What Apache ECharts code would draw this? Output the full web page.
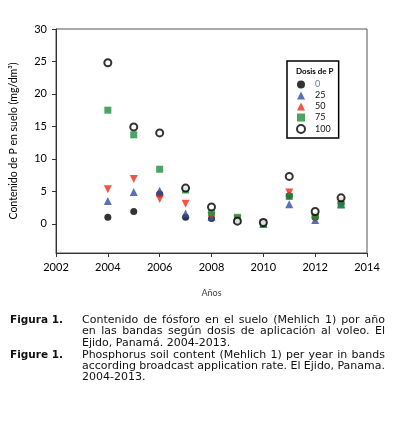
<!DOCTYPE html>
<html>
<head>
<meta charset="utf-8">
<script src="https://cdn.jsdelivr.net/npm/echarts@6/dist/echarts.min.js"></script>
<style>
html, body { margin: 0; padding: 0; background: #fff; }
#main { width: 399px; height: 428px; }
</style>
</head>
<body>
<div id="main"></div>
<script>
// años muestreados
var years = [2004, 2005, 2006, 2007, 2008, 2009, 2010, 2011, 2012, 2013];
// contenido de P (mg/dm3) por dosis
var dosis0   = [1.0, 1.9, 4.6, 1.0, 0.8, 0.5, 0.1, 4.3, 1.0, 3.2];
var dosis25  = [3.5, 4.9, 5.1, 1.6, 1.1, 0.6, 0.0, 3.0, 0.6, 3.0];
var dosis50  = [5.3, 6.9, 3.8, 3.1, 1.2, 0.7, 0.1, 4.8, 0.9, 3.5];
var dosis75  = [17.5, 13.7, 8.4, 5.2, 1.7, 1.0, -0.1, 4.2, 1.2, 2.9];
var dosis100 = [24.8, 14.9, 14.0, 5.5, 2.6, 0.4, 0.2, 7.3, 1.9, 4.0];
var yTicks = [0, 5, 10, 15, 20, 25, 30];

// pie de figura (líneas justificadas salvo la última de cada párrafo)
var pieEs = ['Contenido de fósforo en el suelo (Mehlich 1) por año',
	'en las bandas según dosis de aplicación al voleo. El',
	'Ejido, Panamá. 2004-2013.'];
var pieEn = ['Phosphorus soil content (Mehlich 1) per year in bands',
	'according broadcast application rate. El Ejido, Panama.',
	'2004-2013.'];

function pares(vals) {
	var out = [];
	for (var i = 0; i < years.length; i++) {
		out.push([years[i], vals[i]]);
	}
	return out;
}

var fuentePie = '11px "DejaVu Sans"';
var ctx = document.createElement('canvas').getContext('2d');
ctx.font = fuentePie;

// arma las palabras de un párrafo justificado
function parrafo(lineas, x0, y0, ancho, alto) {
	var els = [];
	for (var i = 0; i < lineas.length; i++) {
		var y = y0 + i * alto;
		var palabras = lineas[i].split(' ');
		if (i == lineas.length - 1) {
			els.push({ type: 'text', x: x0, y: y,
				style: { text: lineas[i], font: fuentePie, fill: '#111', verticalAlign: 'middle' } });
			continue;
		}
		var total = 0;
		for (var j = 0; j < palabras.length; j++) total += ctx.measureText(palabras[j]).width;
		var hueco = (ancho - total) / (palabras.length - 1);
		var x = x0;
		for (var j = 0; j < palabras.length; j++) {
			els.push({ type: 'text', x: x, y: y,
				style: { text: palabras[j], font: fuentePie, fill: '#111', verticalAlign: 'middle' } });
			x += ctx.measureText(palabras[j]).width + hueco;
		}
	}
	return els;
}

var graficos = [
	{ type: 'text', x: 10, y: 320,
	  style: { text: 'Figura 1.', font: 'bold 10.5px "DejaVu Sans"', fill: '#111', verticalAlign: 'middle' } },
	{ type: 'text', x: 10, y: 355,
	  style: { text: 'Figure 1.', font: 'bold 10.5px "DejaVu Sans"', fill: '#111', verticalAlign: 'middle' } }
];
graficos = graficos.concat(parrafo(pieEs, 82, 320, 303, 11.6));
graficos = graficos.concat(parrafo(pieEn, 82, 355, 303, 11.2));

var myChart = echarts.init(document.getElementById('main'));
var option = {
	backgroundColor: '#fff',
	animation: false,
	title: {
		text: 'Dosis de P',
		left: 296,
		top: 67,
		padding: 0,
		textStyle: {
			fontFamily: 'Lato',
			fontSize: 8,
			fontWeight: 'bold',
			color: '#000'
		}
	},
	grid: {
		left: 55,
		right: 32,
		top: 29,
		bottom: 175,
		show: true,
		borderColor: '#555',
		borderWidth: 1
	},
	legend: {
		orient: 'vertical',
		left: 287,
		top: 61,
		padding: [19, 8, 4, 9],
		borderColor: '#000',
		borderWidth: 1.5,
		itemWidth: 8,
		itemHeight: 8,
		itemGap: 2,
		textStyle: {
			fontFamily: 'Lato',
			fontSize: 9,
			color: '#111',
			padding: [0, 0, 0, 5]
		},
		data: [
			{ name: '0', textStyle: { color: '#6a7a98' } },
			'25', '50', '75', '100'
		]
	},
	xAxis: {
		type: 'value',
		min: 2002,
		max: 2014,
		interval: 2,
		name: 'Años',
		nameLocation: 'middle',
		nameGap: 36,
		nameTextStyle: { fontFamily: 'Lato', fontSize: 9, color: '#444' },
		splitLine: { show: false },
		axisLine: { onZero: false, lineStyle: { color: '#333', width: 1 } },
		axisTick: { length: 4, lineStyle: { color: '#333' } },
		axisLabel: {
			fontFamily: 'Lato',
			fontSize: 11,
			color: '#000',
			margin: 9,
			formatter: function (v) { return v; }
		}
	},
	yAxis: {
		type: 'value',
		min: -4.5,
		max: 30,
		name: 'Contenido de P en suelo (mg/dm³)',
		nameLocation: 'middle',
		nameGap: 37,
		nameTextStyle: { fontFamily: 'Lato', fontSize: 10.5, color: '#000' },
		splitLine: { show: false },
		axisLine: { lineStyle: { color: '#333', width: 1 } },
		axisTick: { length: 4, lineStyle: { color: '#333' }, customValues: yTicks },
		axisLabel: {
			fontFamily: 'Lato',
			fontSize: 11,
			color: '#000',
			margin: 9,
			customValues: yTicks
		}
	},
	series: [
		{
			name: '0', type: 'scatter', symbol: 'circle', symbolSize: 7,
			itemStyle: { color: '#000' },
			data: pares(dosis0)
		},
		{
			name: '25', type: 'scatter', symbol: 'triangle', symbolSize: 8,
			itemStyle: { color: '#2e4fa6' },
			data: pares(dosis25)
		},
		{
			name: '50', type: 'scatter', symbol: 'triangle', symbolRotate: 180, symbolSize: 8,
			itemStyle: { color: '#ee2a18' },
			data: pares(dosis50)
		},
		{
			name: '75', type: 'scatter', symbol: 'rect', symbolSize: 7,
			itemStyle: { color: '#1f8c3c' },
			data: pares(dosis75)
		},
		{
			name: '100', type: 'scatter', symbol: 'emptyCircle', symbolSize: 7,
			itemStyle: { color: '#000', borderColor: '#000', borderWidth: 1.6 },
			data: pares(dosis100)
		}
	],
	graphic: graficos
};
myChart.setOption(option);
</script>
</body>
</html>
